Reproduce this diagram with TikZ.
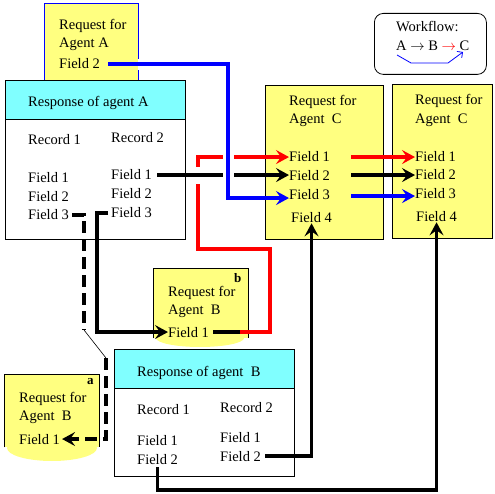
\documentclass[tikz,border=0pt]{standalone}
\usepackage{fontspec}
\setmainfont{Liberation Serif}
\usepackage{xcolor}
\usetikzlibrary{arrows.meta, positioning}
\definecolor{noteyellow}{HTML}{FFFF80}
\definecolor{headcyan}{HTML}{80FFFF}
\tikzset{%
    reqbox/.style = {draw, fill=noteyellow, rectangle, line width=1pt,
        inner sep=0pt, anchor=north west},
    notebox/.style = {fill=noteyellow, rectangle, inner sep=0pt, anchor=north west},
    respbox/.style = {draw, fill=white, rectangle, line width=0.8pt,
        inner sep=0pt, anchor=north west},
    headbox/.style = {respbox, fill=headcyan},
    txt/.style = {anchor=base west, inner sep=0pt, font=\fontsize{14.5}{17}\selectfont},
    tag/.style = {anchor=base west, inner sep=0pt, font=\fontsize{13}{15}\selectfont\bfseries},
    wire/.style = {line width=3.4pt},
    link/.style = {wire, -{Stealth[length=13pt, width=14pt, inset=5pt]}},
    dashwire/.style = {wire, dash pattern=on 12pt off 6pt},
    halo/.style = {preaction={draw=white, -, line width=#1,
        shorten <=30pt, shorten >=40pt}}
}
\begin{document}
\begin{tikzpicture}[x=1pt, y=-1pt]
    \useasboundingbox (0,0) rectangle (495,494);
    % request for agent A
    \node [reqbox, draw=blue, minimum width=94, minimum height=79] (reqA) at (44,3) {};
    \node [txt] (reqAt1) at (59,30) {Request for};
    \node [txt] (reqAt2) at (59,48) {Agent A};
    \node [txt] (aF2) at (59,69) {Field 2};
    % response of agent A
    \node [respbox, minimum width=180, minimum height=159] (respA) at (5,80) {};
    \node [headbox, minimum width=180, minimum height=39] (respAhead) at (5,80) {};
    \node [txt] (respAtitle) at (28,107) {Response of agent A};
    \node [txt] (aRec1) at (28,145) {Record 1};
    \node [txt] (aRec2) at (111,143) {Record 2};
    \node [txt] (aL1) at (28,183) {Field 1};
    \node [txt] (aL2) at (28,202) {Field 2};
    \node [txt] (aL3) at (28,220) {Field 3};
    \node [txt] (aR1) at (111,180) {Field 1};
    \node [txt] (aR2) at (111,199) {Field 2};
    \node [txt] (aR3) at (111,218) {Field 3};
    % workflow
    \node [draw, rounded corners=9pt, line width=0.8pt, anchor=north west,
        minimum width=112, minimum height=61] (flow) at (374,13) {};
    \node [txt] (flowt1) at (396,32) {Workflow:};
    \node [txt] (flowt2) at (396,51) {A $\rightarrow$ B {\color{red}$\rightarrow$} C};
    \draw [blue, line width=0.8pt, -{Straight Barb[length=4pt]}]
        (397,55) -- (411,63) -- (448,63) -- (463,52);
    % requests for agent C
    \node [reqbox, minimum width=118, minimum height=154] (reqC1) at (265,85) {};
    \node [txt] (c1t1) at (289,106) {Request for};
    \node [txt] (c1t2) at (289,124) {Agent~~C};
    \node [txt] (c1F1) at (289,162) {Field 1};
    \node [txt] (c1F2) at (289,181) {Field 2};
    \node [txt] (c1F3) at (289,200) {Field 3};
    \node [txt] (c1F4) at (291,223) {Field 4};
    \node [reqbox, minimum width=100, minimum height=154] (reqC2) at (392,84) {};
    \node [txt] (c2t1) at (415,105) {Request for};
    \node [txt] (c2t2) at (415,124) {Agent~~C};
    \node [txt] (c2F1) at (415,162) {Field 1};
    \node [txt] (c2F2) at (415,180) {Field 2};
    \node [txt] (c2F3) at (415,199) {Field 3};
    \node [txt] (c2F4) at (416,222) {Field 4};
    % request for agent B (b)
    \fill [noteyellow] (200,338) ellipse (44 and 9);
    \node [notebox, minimum width=95, minimum height=70] (reqBb) at (153,268) {};
    \draw [line width=0.6pt] (reqBb.south west) -- (reqBb.north west)
        -- (reqBb.north east) -- (reqBb.south east);
    \node [tag] (bTag) at (234,283) {b};
    \node [txt] (bt1) at (168,296) {Request for};
    \node [txt] (bt2) at (168,314) {Agent~~B};
    \node [txt] (bF1) at (168,337) {Field 1};
    % request for agent B (a)
    \fill [noteyellow] (52,448) ellipse (45 and 13);
    \node [notebox, minimum width=95, minimum height=73] (reqBa) at (4,374) {};
    \draw [line width=0.6pt] (reqBa.south west) -- (reqBa.north west)
        -- (reqBa.north east) -- (reqBa.south east);
    \node [tag] (aTag) at (87,384) {a};
    \node [txt] (bat1) at (19,402) {Request for};
    \node [txt] (bat2) at (19,420) {Agent~~B};
    \node [txt] (baF1) at (19,444) {Field 1};
    % response of agent B
    \node [respbox, minimum width=180, minimum height=127] (respB) at (114,349) {};
    \node [headbox, minimum width=180, minimum height=39] (respBhead) at (114,349) {};
    \node [txt] (respBtitle) at (137,376) {Response of agent~~B};
    \node [txt] (bRec1) at (137,414) {Record 1};
    \node [txt] (bRec2) at (220,412) {Record 2};
    \node [txt] (bL1) at (137,445) {Field 1};
    \node [txt] (bL2) at (137,464) {Field 2};
    \node [txt] (bR1) at (220,442) {Field 1};
    \node [txt] (bR2) at (220,461) {Field 2};
    % turning points
    \coordinate (redStart) at (240,0);
    \coordinate (redLow) at (270,249);
    \coordinate (redHi) at (198,0);
    \coordinate (blueX) at (228,0);
    \coordinate (c1out) at (351,0);
    \coordinate (dashA) at (84,330);
    \coordinate (dashB) at (106,358);
    \coordinate (bottomY) at (0,490);
    % connectors
    \draw [wire] ([xshift=4pt]bF1.east) -- (bF1.east -| redStart);
    \draw [link, red] (bF1.east -| redStart) -| (redLow)
        -| (redHi |- c1F1.west) -- (c1F1.west);
    \draw [link, halo=17pt] ([xshift=5pt]aR1.east) -- (aR1.east -| c1F2.west);
    \draw [link, blue, halo=11pt] ([xshift=8pt]aF2.east)
        -| ([yshift=-3pt]blueX |- c1F3.west) -- ([yshift=-3pt]c1F3.west);
    \draw [link, red] (c1out |- c2F1.west) -- (c2F1.west);
    \draw [link] (c1out |- c2F2.west) -- (c2F2.west);
    \draw [link, blue] ([yshift=-2pt]c1out |- c2F3.west) -- ([yshift=-2pt]c2F3.west);
    \draw [link] ([xshift=-3pt]aR3.west) -- ++(-11,0) |- (bF1.west);
    \draw [dashwire] ([xshift=3pt]aL3.east) -| (dashA);
    \draw [line width=0.6pt] (dashA) -- (dashB);
    \draw [dashwire, -{Stealth[length=13pt, width=14pt, inset=5pt]}]
        (dashB) |- ([xshift=2pt]baF1.east);
    \draw [link] ([xshift=4pt]bR2.east) -| (c1F4.south);
    \draw [link] ([yshift=-3pt]bL2.south) -- (bL2.south |- bottomY) -| (c2F4.south);
\end{tikzpicture}
\end{document}
